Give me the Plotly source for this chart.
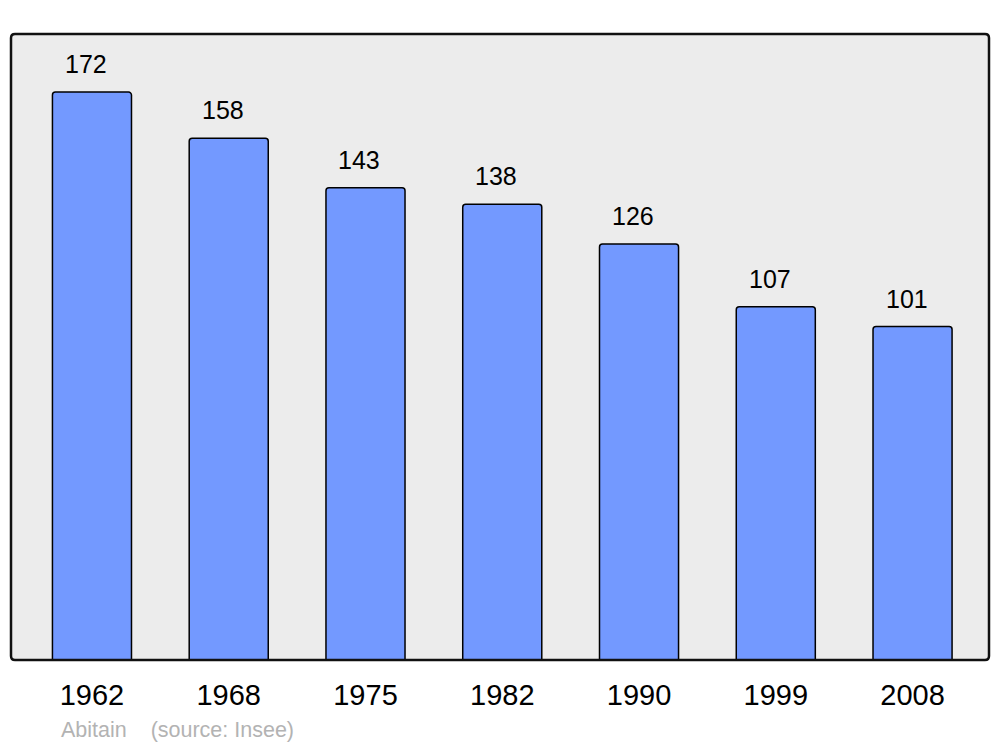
import plotly.graph_objects as go

years = ["1962", "1968", "1975", "1982", "1990", "1999", "2008"]
population = [172, 158, 143, 138, 126, 107, 101]
source_name = "Abitain"
source_ref = "(source: Insee)"

xpos = list(range(len(years)))

fig = go.Figure()
fig.add_trace(go.Bar(
    x=xpos, y=population, width=0.578,
    marker=dict(color="#7399ff", line=dict(color="#000000", width=1.5), cornerradius=3),
    hoverinfo="skip",
))

for xi, v in zip(xpos, population):
    fig.add_annotation(x=xi, y=v, text=str(v), showarrow=False, yanchor="middle",
                       yshift=28, xshift=-6,
                       font=dict(family="Liberation Sans, Arial", size=25, color="#000"))

fig.add_annotation(xref="paper", yref="paper", x=0.0491, y=-0.1118, xanchor="left",
                   yanchor="middle", text=source_name + "&nbsp;" * 4 + source_ref, showarrow=False,
                   font=dict(family="Liberation Sans, Arial", size=21.5, color="#b3b3b3"))

# rounded frame
rx, ry = 4 / 978, 4 / 626
path = (f"M {rx},0 L {1-rx},0 Q 1,0 1,{ry} L 1,{1-ry} Q 1,1 {1-rx},1 "
        f"L {rx},1 Q 0,1 0,{1-ry} L 0,{ry} Q 0,0 {rx},0 Z")
fig.add_shape(type="path", xref="paper", yref="paper", path=path,
              line=dict(color="#111111", width=2.5), layer="above")

fig.update_layout(
    width=1000, height=747,
    margin=dict(l=11, r=11, t=34, b=87),
    paper_bgcolor="white", plot_bgcolor="#ececec",
    showlegend=False,
    font=dict(family="Liberation Sans, Arial", color="#000"),
    xaxis=dict(range=[-0.592, 6.559], tickmode="array", tickvals=xpos, ticktext=years,
               showgrid=False, zeroline=False, showline=False,
               ticks="outside", ticklen=9, tickcolor="rgba(0,0,0,0)",
               tickfont=dict(size=29, family="Liberation Sans, Arial", color="#000")),
    yaxis=dict(range=[0, 189.6], visible=False, showgrid=False, zeroline=False),
)

fig.write_html("out.html", config={"displayModeBar": False},
               post_script="document.body.style.margin='0';document.body.style.overflow='hidden';")
